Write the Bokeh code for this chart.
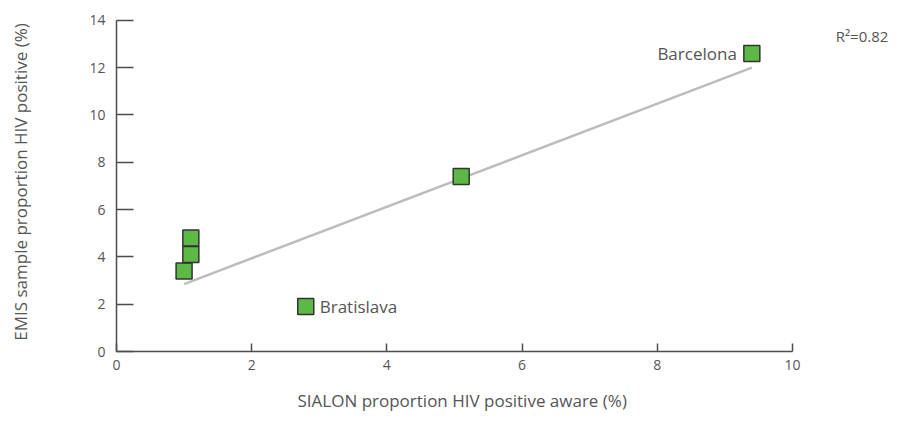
from bokeh.plotting import figure
from bokeh.models import Range1d, FixedTicker, ColumnDataSource, LabelSet, Label, Title
from bokeh.core.properties import value
from bokeh.embed import file_html
from bokeh.resources import INLINE

# Data
sialon_aware = [1.0, 1.1, 1.1, 2.8, 5.1, 9.4]
emis_positive = [3.4, 4.1, 4.8, 1.9, 7.4, 12.6]
city_labels = ["", "", "", "Bratislava", "", "Barcelona"]
label_side = ["right", "right", "right", "right", "right", "left"]
trend_x = [1.0, 9.4]
trend_y = [2.85, 12.0]
x_ticks = [0, 2, 4, 6, 8, 10]
y_ticks = [0, 2, 4, 6, 8, 10, 12, 14]
r2_text = "R²=0.82"
x_title = "SIALON proportion HIV positive aware (%)"
y_title = "EMIS sample proportion HIV positive (%)"

TEXT = "#555555"
AXIS = "#4d4d4d"

p = figure(width=898, height=425, output_backend="svg", toolbar_location=None,
           x_range=Range1d(0, 11.57), y_range=Range1d(0, 14.33),
           min_border_left=116, min_border_right=0, min_border_top=12, min_border_bottom=68)
p.outline_line_color = None
p.grid.grid_line_color = None

p.line(trend_x, trend_y, line_color="#bdbdbd", line_width=2.5)

src = ColumnDataSource(dict(x=sialon_aware, y=emis_positive))
p.scatter("x", "y", source=src, marker="square", size=16, fill_color="#5cb946",
          line_color="#333333", line_width=1.5)

src_r = ColumnDataSource(dict(x=[v for v, s in zip(sialon_aware, label_side) if s == "right"],
                              y=[v for v, s in zip(emis_positive, label_side) if s == "right"],
                              lab=[v for v, s in zip(city_labels, label_side) if s == "right"]))
src_l = ColumnDataSource(dict(x=[v for v, s in zip(sialon_aware, label_side) if s == "left"],
                              y=[v for v, s in zip(emis_positive, label_side) if s == "left"],
                              lab=[v for v, s in zip(city_labels, label_side) if s == "left"]))
p.add_layout(LabelSet(x="x", y="y", text="lab", source=src_r, x_offset=14,
                      text_align="left", text_baseline="middle", text_font=value("Open Sans"),
                      text_font_size="17px", text_color=TEXT))
p.add_layout(LabelSet(x="x", y="y", text="lab", source=src_l, x_offset=-15,
                      text_align="right", text_baseline="middle", text_font=value("Open Sans"),
                      text_font_size="17px", text_color=TEXT))

p.add_layout(Label(x=11.42, y=13.33, text=r2_text, text_align="right", text_baseline="middle",
                   text_font="Open Sans", text_font_size="15px", text_color=TEXT))

# x-axis title, left-aligned with an offset so it sits centred under the 0-10 axis
p.add_layout(Title(text=x_title, align="left", offset=181, standoff=28,
                   text_font="Open Sans", text_font_size="17px", text_font_style="normal",
                   text_color=TEXT), "below")

for ax, ticks, bnds in ((p.xaxis[0], x_ticks, (0, 10)), (p.yaxis[0], y_ticks, (0, 14))):
    ax.ticker = FixedTicker(ticks=ticks)
    ax.bounds = bnds
    ax.axis_line_color = AXIS
    ax.axis_line_width = 1.5
    ax.major_tick_line_color = AXIS
    ax.major_tick_line_width = 1.5
    ax.minor_tick_line_color = None
    ax.major_tick_out = 0
    ax.major_label_text_font = "Open Sans"
    ax.major_label_text_font_size = "14px"
    ax.major_label_text_color = TEXT
    ax.axis_label_text_font_style = "normal"
    ax.axis_label_text_color = TEXT

p.xaxis.major_tick_in = 8
p.yaxis.major_tick_in = 17
p.xaxis.major_label_standoff = 8
p.yaxis.major_label_standoff = 11
p.yaxis.axis_label = y_title
p.yaxis.axis_label_text_font = "Open Sans"
p.yaxis.axis_label_text_font_size = "17px"
p.yaxis.axis_label_standoff = 54

open("out.html", "w").write(file_html(p, INLINE))
